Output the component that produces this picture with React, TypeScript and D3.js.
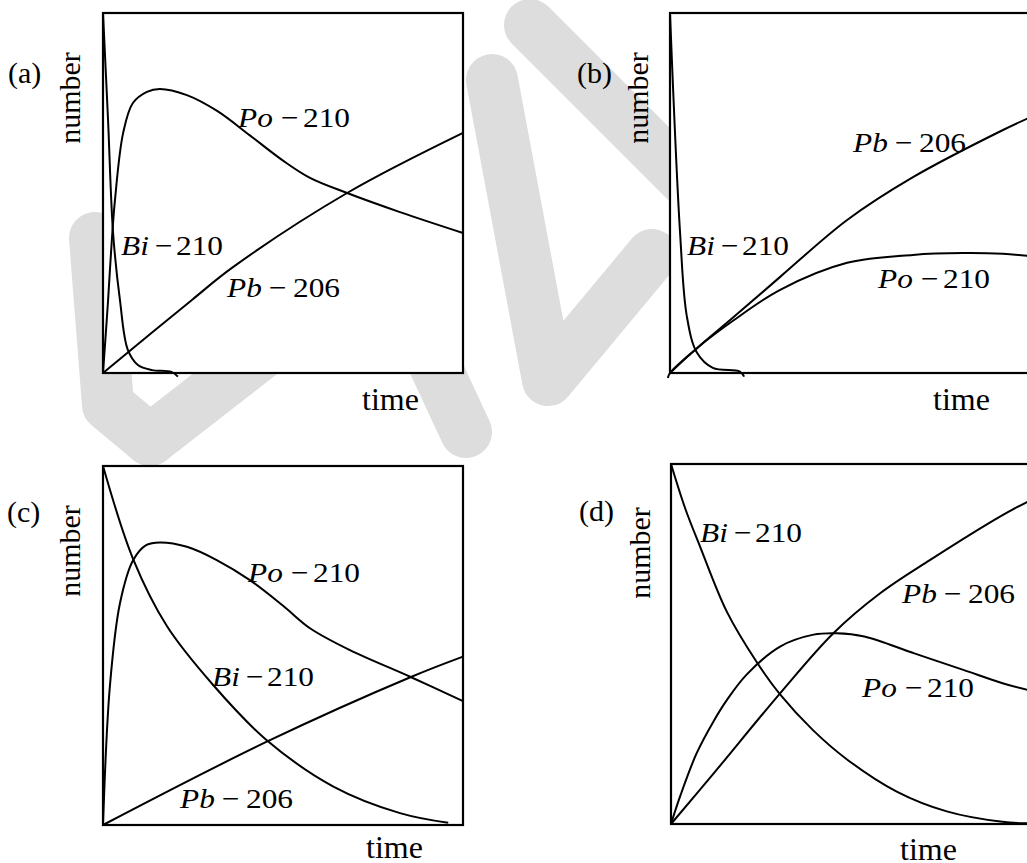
import React from "react";
import * as d3 from "d3";

type Pt = [number, number];

// Normalised (time, number) readings for each nuclide, per panel.
// Panel (a)
const biA: Pt[] = [[0, 1], [0.014, 0.703], [0.028, 0.389], [0.047, 0.203], [0.069, 0.064], [0.097, 0.022], [0.136, 0.008], [0.19, 0.003], [0.208, -0.01]];
const poA: Pt[] = [[0, 0], [0.014, 0.2], [0.022, 0.33], [0.033, 0.478], [0.056, 0.667], [0.083, 0.75], [0.122, 0.781], [0.158, 0.789], [0.233, 0.772], [0.317, 0.728], [0.408, 0.66], [0.5, 0.59], [0.575, 0.542], [0.678, 0.5], [0.825, 0.447], [1, 0.389]];
const pbA: Pt[] = [[0, 0], [0.247, 0.203], [0.361, 0.294], [0.678, 0.5], [1, 0.667]];

// Panel (b)
const biB: Pt[] = [[0, 1], [0.028, 0.389], [0.047, 0.156], [0.075, 0.056], [0.119, 0.014], [0.194, 0.004], [0.206, -0.01]];
const pbB: Pt[] = [[-0.006, -0.014], [0, 0], [0.075, 0.069], [0.167, 0.147], [0.306, 0.267], [0.492, 0.425], [0.675, 0.544], [0.925, 0.675], [1, 0.71]];
const poB: Pt[] = [[0, 0], [0.075, 0.069], [0.175, 0.145], [0.306, 0.231], [0.492, 0.306], [0.675, 0.328], [0.814, 0.333], [0.925, 0.331], [1, 0.325]];

// Panel (c)
const biC: Pt[] = [[0, 1], [0.084, 0.74], [0.177, 0.555], [0.306, 0.39], [0.454, 0.237], [0.64, 0.107], [0.825, 0.033], [0.959, 0.006]];
const poC: Pt[] = [[0, 0], [0.019, 0.385], [0.047, 0.617], [0.084, 0.738], [0.121, 0.78], [0.158, 0.787], [0.233, 0.775], [0.316, 0.738], [0.408, 0.682], [0.501, 0.61], [0.575, 0.548], [0.686, 0.487], [0.853, 0.413], [1, 0.345]];
const pbC: Pt[] = [[0, 0], [0.455, 0.232], [0.857, 0.413], [1, 0.469]];

// Panel (d)
const biD: Pt[] = [[0, 1], [0.04, 0.875], [0.081, 0.77], [0.155, 0.59], [0.238, 0.45], [0.303, 0.36], [0.395, 0.26], [0.488, 0.18], [0.627, 0.09], [0.766, 0.035], [0.921, 0.006], [1, 0.002]];
const poD: Pt[] = [[0, 0], [0.025, 0.076], [0.071, 0.196], [0.118, 0.285], [0.155, 0.344], [0.21, 0.415], [0.303, 0.493], [0.396, 0.526], [0.46, 0.53], [0.537, 0.521], [0.676, 0.474], [0.812, 0.428], [0.921, 0.391], [1, 0.37]];
const pbD: Pt[] = [[0, 0], [0.118, 0.14], [0.303, 0.363], [0.451, 0.53], [0.581, 0.641], [0.719, 0.733], [0.921, 0.858], [1, 0.9]];

// Text
const panelTags = ["(a)", "(b)", "(c)", "(d)"];
const yTitle = "number";
const xTitle = "time";
const nuclides = { Bi: "210", Po: "210", Pb: "206" } as const;

type Nuclide = keyof typeof nuclides;

// Horizontal offsets of the minus sign and the mass number within a label
const labelOffsets: Record<Nuclide, [number, number]> = {
  Bi: [34, 55],
  Po: [43, 65],
  Pb: [42, 66],
};

interface Series {
  pts: Pt[];
  name: Nuclide;
  lx: number;
  ly: number;
}

interface Panel {
  tag: string;
  x0: number;
  y0: number;
  w: number;
  h: number;
  tagX: number;
  tagY: number;
  numX: number;
  numY: number;
  timeX: number;
  timeY: number;
  series: Series[];
}

const panels: Panel[] = [
  {
    tag: panelTags[0], x0: 103, y0: 13, w: 360, h: 360,
    tagX: 8, tagY: 83, numX: 80, numY: 98, timeX: 362, timeY: 410,
    series: [
      { pts: biA, name: "Bi", lx: 121, ly: 255 },
      { pts: poA, name: "Po", lx: 238, ly: 127 },
      { pts: pbA, name: "Pb", lx: 227, ly: 297 },
    ],
  },
  {
    tag: panelTags[1], x0: 670, y0: 13, w: 360, h: 360,
    tagX: 577, tagY: 83, numX: 648, numY: 98, timeX: 933, timeY: 410,
    series: [
      { pts: biB, name: "Bi", lx: 687, ly: 255 },
      { pts: pbB, name: "Pb", lx: 853, ly: 152 },
      { pts: poB, name: "Po", lx: 878, ly: 288 },
    ],
  },
  {
    tag: panelTags[2], x0: 103, y0: 466, w: 360, h: 359,
    tagX: 7, tagY: 522, numX: 80, numY: 551, timeX: 366, timeY: 858,
    series: [
      { pts: biC, name: "Bi", lx: 212, ly: 686 },
      { pts: poC, name: "Po", lx: 248, ly: 582 },
      { pts: pbC, name: "Pb", lx: 180, ly: 808 },
    ],
  },
  {
    tag: panelTags[3], x0: 671, y0: 464, w: 360, h: 360,
    tagX: 579, tagY: 521, numX: 650, numY: 553, timeX: 900, timeY: 860,
    series: [
      { pts: biD, name: "Bi", lx: 700, ly: 542 },
      { pts: pbD, name: "Pb", lx: 902, ly: 603 },
      { pts: poD, name: "Po", lx: 862, ly: 697 },
    ],
  },
];

// Faint background strokes, partly covered by the white plot areas.
const backdropStrokes: Pt[][] = [
  [[95, 238], [108, 405], [150, 440]],
  [[150, 440], [330, 300]],
  [[330, 140], [466, 432]],
  [[530, 25], [720, 215]],
  [[492, 80], [548, 380], [652, 255]],
];

const FONT = '"Liberation Serif", "Times New Roman", Times, serif';
const LABEL_SIZE = 28;
const LABEL_STRETCH = 1.12;

function NuclideLabel({ s }: { s: Series }) {
  const [dMinus, dMass] = labelOffsets[s.name];
  return (
    <g transform={`translate(${s.lx},${s.ly}) scale(${LABEL_STRETCH},1)`} fontSize={LABEL_SIZE}>
      <text x={0} y={0} fontStyle="italic">{s.name}</text>
      <text x={dMinus / LABEL_STRETCH} y={0}>{"\u2212"}</text>
      <text x={dMass / LABEL_STRETCH} y={0}>{nuclides[s.name]}</text>
    </g>
  );
}

function PanelView({ p }: { p: Panel }) {
  const x = d3.scaleLinear().domain([0, 1]).range([p.x0, p.x0 + p.w]);
  const y = d3.scaleLinear().domain([0, 1]).range([p.y0 + p.h, p.y0]);
  const line = d3
    .line<Pt>()
    .x((d) => x(d[0]))
    .y((d) => y(d[1]))
    .curve(d3.curveCatmullRom.alpha(0.5));
  return (
    <g>
      <rect x={p.x0} y={p.y0} width={p.w} height={p.h} fill="#fff" stroke="none" />
      {p.series.map((s, i) => (
        <path key={i} d={line(s.pts) ?? ""} fill="none" stroke="#000" strokeWidth={2} />
      ))}
      <rect x={p.x0} y={p.y0} width={p.w} height={p.h} fill="none" stroke="#000" strokeWidth={2.2} />
      <g fontFamily={FONT} fill="#000">
        <text x={p.tagX} y={p.tagY} fontSize={30}>{p.tag}</text>
        <text transform={`translate(${p.numX},${p.numY}) rotate(-90)`} textAnchor="middle" fontSize={30}>
          {yTitle}
        </text>
        <text x={p.timeX} y={p.timeY} fontSize={32}>{xTitle}</text>
        {p.series.map((s, i) => (
          <NuclideLabel key={i} s={s} />
        ))}
      </g>
    </g>
  );
}

export default function App() {
  const W = 1027;
  const H = 863;
  const wm = d3.line<Pt>().curve(d3.curveLinear);
  return (
    <svg
      width={W}
      height={H}
      viewBox={`0 0 ${W} ${H}`}
      style={{ position: "absolute", left: 0, top: 0, background: "#fff" }}
    >
      <rect width={W} height={H} fill="#fff" />
      <g fill="none" stroke="#dddddd" strokeWidth={52} strokeLinecap="round" strokeLinejoin="round">
        {backdropStrokes.map((s, i) => (
          <path key={i} d={wm(s) ?? ""} />
        ))}
      </g>
      {panels.map((p, i) => (
        <PanelView key={i} p={p} />
      ))}
    </svg>
  );
}
